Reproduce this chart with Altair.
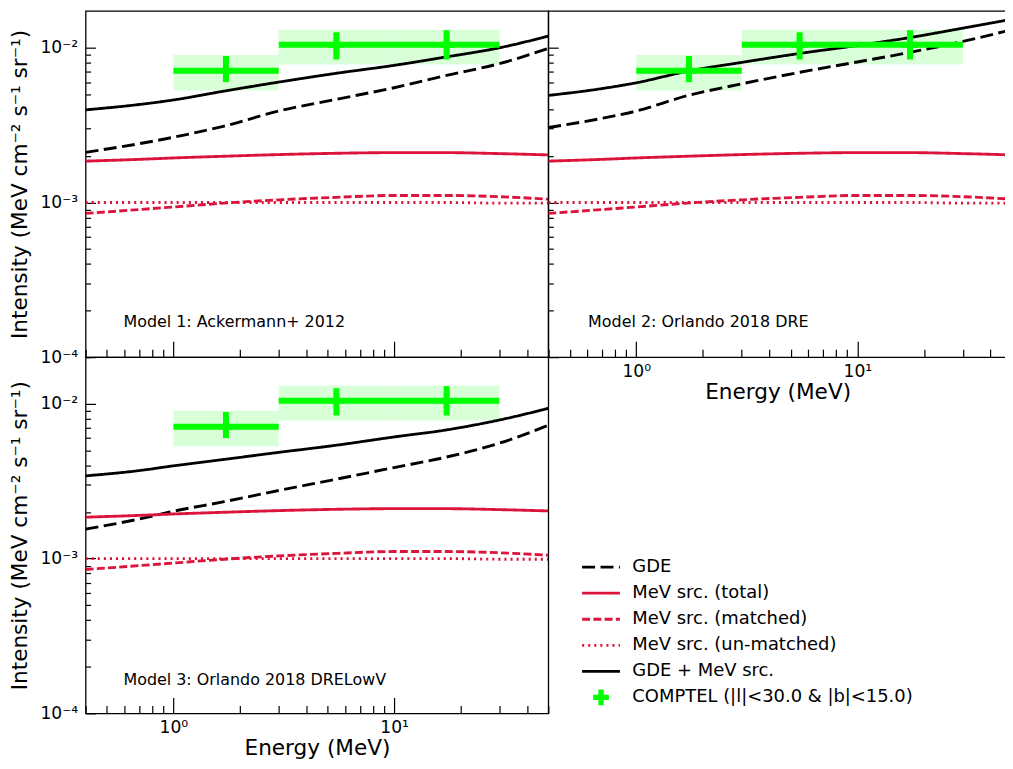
import altair as alt
import pandas as pd

# ---------------- data ----------------
energy = [0.4, 0.7, 1.0, 1.7, 3.0, 5.5, 10.0, 17.0, 30.0, 50.0]

gde_model1 = [2.11e-3, 2.40e-3, 2.64e-3, 3.12e-3, 3.90e-3, 4.65e-3, 5.52e-3, 6.60e-3, 7.90e-3, 9.90e-3]
sum_model1 = [3.97e-3, 4.30e-3, 4.60e-3, 5.25e-3, 6.00e-3, 6.85e-3, 7.70e-3, 8.70e-3, 1.00e-2, 1.19e-2]
gde_model2 = [3.05e-3, 3.50e-3, 3.90e-3, 4.90e-3, 5.85e-3, 6.95e-3, 8.10e-3, 9.30e-3, 1.10e-2, 1.31e-2]
sum_model2 = [4.92e-3, 5.45e-3, 5.94e-3, 7.05e-3, 8.05e-3, 9.20e-3, 1.035e-2, 1.16e-2, 1.34e-2, 1.53e-2]
gde_model3 = [1.55e-3, 1.80e-3, 2.02e-3, 2.33e-3, 2.75e-3, 3.26e-3, 3.87e-3, 4.50e-3, 5.56e-3, 7.26e-3]
sum_model3 = [3.42e-3, 3.70e-3, 3.97e-3, 4.37e-3, 4.85e-3, 5.40e-3, 6.10e-3, 6.75e-3, 7.85e-3, 9.33e-3]

mev_total = [1.85e-3, 1.90e-3, 1.94e-3, 1.99e-3, 2.04e-3, 2.08e-3, 2.10e-3, 2.10e-3, 2.07e-3, 2.03e-3]
mev_matched = [8.5e-4, 9.0e-4, 9.35e-4, 9.9e-4, 1.04e-3, 1.08e-3, 1.11e-3, 1.11e-3, 1.09e-3, 1.05e-3]
mev_unmatched = [1.0e-3, 1.0e-3, 1.0e-3, 1.0e-3, 1.0e-3, 1.0e-3, 1.0e-3, 1.0e-3, 0.99e-3, 0.99e-3]

comptel_lo = [1.0, 3.0, 10.0]
comptel_hi = [3.0, 10.0, 30.0]
comptel_center = [1.73, 5.48, 17.3]
comptel_val = [7.1e-3, 1.045e-2, 1.045e-2]
comptel_err_lo = [6.0e-3, 8.4e-3, 8.4e-3]
comptel_err_hi = [8.85e-3, 1.26e-2, 1.30e-2]
comptel_sys_lo = [5.3e-3, 7.8e-3, 7.8e-3]
comptel_sys_hi = [9.0e-3, 1.31e-2, 1.31e-2]

model_labels = ["Model 1: Ackermann+ 2012", "Model 2: Orlando 2018 DRE", "Model 3: Orlando 2018 DRELowV"]

S_GDE = "GDE"
S_TOT = "MeV src. (total)"
S_MAT = "MeV src. (matched)"
S_UNM = "MeV src. (un-matched)"
S_SUM = "GDE + MeV src."
S_COM = "COMPTEL (|l|<30.0 & |b|<15.0)"
SERIES = [S_GDE, S_TOT, S_MAT, S_UNM, S_SUM, S_COM]

# ---------------- styles ----------------
BLACK = "#000000"
RED = "#dc143c"
GREEN = "#00ff00"
FONT = "DejaVu Sans"

COLORS = [BLACK, RED, RED, RED, BLACK, GREEN]
DASHES = [[13, 5.5], [1, 0], [8, 3.3], [2.1, 4.0], [1, 0], [1, 0]]
WIDTHS = [2.9, 2.8, 2.1, 2.1, 2.8, 3]
PLUS = "M-0.068,-0.342H0.068V-0.068H0.342V0.068H0.068V0.342H-0.068V0.068H-0.342V-0.068H-0.068Z"
SHAPES = ["stroke", "stroke", "stroke", "stroke", "stroke", PLUS]

MAJOR = "abs(log(datum.value)/LN10 - round(log(datum.value)/LN10)) < 1e-6"
EXP = "round(log(datum.value)/LN10)"
LABEL_EXPR = (
    f"({MAJOR}) ? '10' + ({EXP} < 0 ? '\u207b' : '') + "
    f"['\u2070','\u00b9','\u00b2','\u00b3','\u2074','\u2075','\u2076','\u2077','\u2078','\u2079'][abs({EXP})] : ''"
)

LEG = alt.Legend(
    orient="none", legendX=497.5, legendY=549, title=None,
    labelFont=FONT, labelFontSize=18, labelColor="black", labelLimit=500,
    symbolSize=1444, symbolStrokeWidth=3, clipHeight=20, rowPadding=6.2,
    labelOffset=11, padding=0, symbolOffset=0,
)

color_enc = alt.Color("series:N", scale=alt.Scale(domain=SERIES, range=COLORS), legend=LEG)
dash_enc = alt.StrokeDash("series:N", scale=alt.Scale(domain=SERIES, range=DASHES), legend=LEG)
shape_enc = alt.Shape("series:N", scale=alt.Scale(domain=SERIES, range=SHAPES), legend=LEG)
width_enc = alt.StrokeWidth("series:N", scale=alt.Scale(domain=SERIES, range=WIDTHS), legend=None)


def x_axis(show):
    return alt.Axis(
        tickSize={"expr": f"({MAJOR}) ? -16 : -8"}, tickColor="black", tickWidth=1.2,
        domain=False, grid=False, labels=show, labelExpr=LABEL_EXPR,
        labelFont=FONT, labelFontSize=17.2, labelColor="black", labelPadding=35,
        labelBaseline="alphabetic", labelOverlap=False, labelFlush=False,
        title="Energy (MeV)" if show else None, titleFont=FONT, titleFontSize=21.7,
        titleFontWeight="normal", titleColor="black", titleY=41.5, titleBaseline="alphabetic",
    )


def y_axis(show):
    return alt.Axis(
        tickSize={"expr": f"({MAJOR}) ? -10 : -5"}, tickColor="black", tickWidth=1.2,
        domain=False, grid=False, labels=show, labelExpr=LABEL_EXPR,
        labelFont=FONT, labelFontSize=17.2, labelColor="black", labelPadding=18,
        labelBaseline="middle", labelOverlap=False, labelFlush=False,
        title="Intensity (MeV cm\u207b\u00b2 s\u207b\u00b9 sr\u207b\u00b9)" if show else None,
        titleFont=FONT, titleFontSize=21.7, titleFontWeight="normal", titleColor="black",
        titleX=-59, titleBaseline="alphabetic",
    )


comptel_df = pd.DataFrame({
    "lo": comptel_lo, "hi": comptel_hi, "center": comptel_center, "val": comptel_val,
    "err_lo": comptel_err_lo, "err_hi": comptel_err_hi,
    "sys_lo": comptel_sys_lo, "sys_hi": comptel_sys_hi, "series": [S_COM] * 3,
})


def panel(gde, gsum, label, xmax, ymax, width, height, text_x, text_y, show_x, show_y):
    rows = []
    for name, vals in [(S_GDE, gde), (S_TOT, mev_total), (S_MAT, mev_matched),
                       (S_UNM, mev_unmatched), (S_SUM, gsum)]:
        for e, v in zip(energy, vals):
            rows.append({"energy": e, "intensity": v, "series": name})
    lines_df = pd.DataFrame(rows)

    xs = alt.Scale(type="log", domain=[0.4, xmax], nice=False)
    ys = alt.Scale(type="log", domain=[1e-4, ymax], nice=False)
    xa = x_axis(show_x)
    ya = y_axis(show_y)

    base = alt.Chart(comptel_df)
    boxes = base.mark_rect(color=GREEN, opacity=0.15).encode(
        x=alt.X("lo:Q", scale=xs, axis=xa), x2="hi:Q",
        y=alt.Y("sys_lo:Q", scale=ys, axis=ya), y2="sys_hi:Q",
    )
    lines = alt.Chart(lines_df).mark_line(clip=True, interpolate="monotone").encode(
        x=alt.X("energy:Q", scale=xs, axis=xa),
        y=alt.Y("intensity:Q", scale=ys, axis=ya),
        color=color_enc, strokeDash=dash_enc, strokeWidth=width_enc,
    )
    hbar = base.mark_rule(color=GREEN, strokeWidth=6).encode(
        x=alt.X("lo:Q", scale=xs, axis=xa), x2="hi:Q", y=alt.Y("val:Q", scale=ys, axis=ya)
    )
    vbar = base.mark_rule(color=GREEN, strokeWidth=6).encode(
        x=alt.X("center:Q", scale=xs, axis=xa),
        y=alt.Y("err_lo:Q", scale=ys, axis=ya), y2="err_hi:Q",
    )
    pts = base.mark_point(filled=False, strokeWidth=3, size=1444, opacity=1).encode(
        x=alt.X("center:Q", scale=xs, axis=xa), y=alt.Y("val:Q", scale=ys, axis=ya),
        color=color_enc, shape=shape_enc,
    )
    txt = alt.Chart(pd.DataFrame({"label": [label]})).mark_text(
        font=FONT, fontSize=16, color="black", align="left", baseline="alphabetic"
    ).encode(x=alt.value(text_x), y=alt.value(text_y), text="label:N")
    return alt.layer(boxes, lines, hbar, vbar, pts, txt).properties(width=width, height=height)


p1 = panel(gde_model1, sum_model1, model_labels[0], 50, 1.733e-2, 465, 348, 38, 318, False, True)
p2 = panel(gde_model2, sum_model2, model_labels[1], 47.5, 1.733e-2, 461, 348, 40, 318, True, False)
p3 = panel(gde_model3, sum_model3, model_labels[2], 50, 2.0e-2, 465, 358, 38, 330, True, True)

chart = (
    alt.concat(p1, p2, p3, columns=2, spacing=0, bounds="flush")
    .properties(padding={"top": 0, "left": 1, "right": -3, "bottom": -2})
    .configure(font=FONT)
    .configure_view(stroke="black", strokeWidth=1.3)
)

chart.save("out.html", embed_options={"renderer": "svg", "actions": False})
